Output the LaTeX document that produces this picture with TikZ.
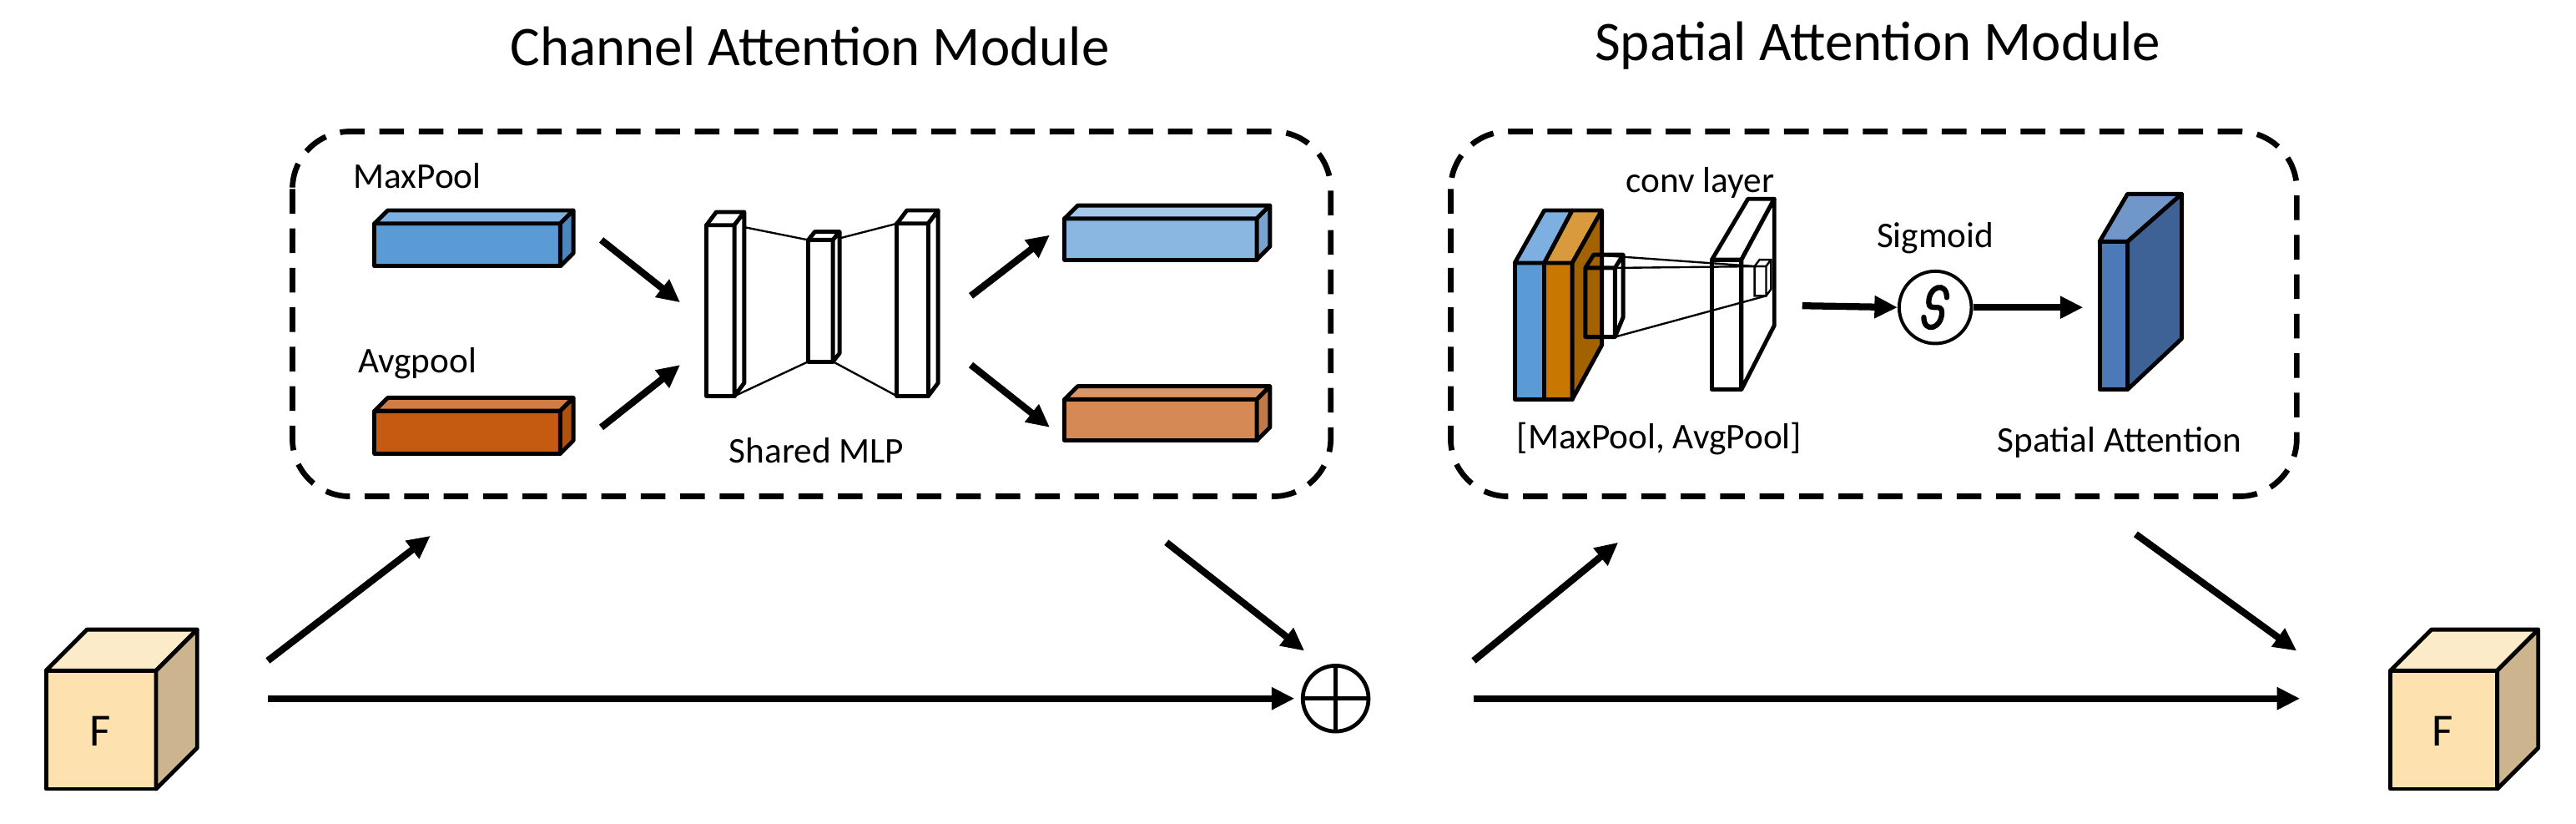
\documentclass[tikz,border=0pt]{standalone}
\usepackage{fontspec}
\setmainfont{Carlito}
\usetikzlibrary{arrows.meta}
\definecolor{mpf}{HTML}{5B9BD5}\definecolor{mpt}{HTML}{7DAFE0}\definecolor{mps}{HTML}{4A86C0}
\definecolor{apf}{HTML}{C55A11}\definecolor{apt}{HTML}{D07C45}\definecolor{aps}{HTML}{B0520F}
\definecolor{obf}{HTML}{8AB6E2}\definecolor{obt}{HTML}{A4C6EA}\definecolor{obs}{HTML}{79A3CF}
\definecolor{oof}{HTML}{D58A55}\definecolor{oot}{HTML}{DB9668}\definecolor{oos}{HTML}{C07A48}
\definecolor{orf}{HTML}{C87800}\definecolor{ort}{HTML}{D89A3C}\definecolor{ors}{HTML}{A36200}
\definecolor{saf}{HTML}{4E79B8}\definecolor{sat}{HTML}{7196C8}\definecolor{sas}{HTML}{3F6296}
\definecolor{ff}{HTML}{FDE2B0}\definecolor{ft}{HTML}{FCEBC8}\definecolor{fs}{HTML}{CCB48E}
\tikzset{
 big/.style={line width=4.2pt,-{Triangle[length=14pt,width=13pt]}},
 dbox/.style={line width=3.4pt,dash pattern=on 15pt off 9pt,rounded corners=35pt},
 lbl/.style={font=\fontsize{22}{26}\selectfont},
 ttl/.style={font=\fontsize{34}{40}\selectfont},
 edge/.style={line width=2.5pt,line join=round}
}
\newcommand{\mycube}[9]{%
 \fill[#7,draw=black,edge] (#1,#2) rectangle ++(#3,#4);
 \fill[#8,draw=black,edge] (#1,#2) -- ++(#5,-#6) -- ++(#3,0) -- ++(-#5,#6) -- cycle;
 \fill[#9,draw=black,edge] (#1+#3,#2) -- ++(#5,-#6) -- ++(0,#4) -- ++(-#5,#6) -- cycle;}
\begin{document}
\begin{tikzpicture}[x=1pt,y=-1pt]
\useasboundingbox (0,0) rectangle (1568,501);
\node[ttl] (t1) at (493,28) {Channel Attention Module};
\node[ttl] (t2) at (1143,28) {Spatial Attention Module};
\draw[dbox] (178,80) rectangle (810,302);
\draw[dbox] (883,80) rectangle (1398,302);
% channel
\node[lbl] (mpl) at (254,107) {MaxPool};
\mycube{228}{136}{113}{26}{8}{8}{mpf}{mpt}{mps}
\node[lbl] (apl) at (254,221) {Avgpool};
\mycube{228}{250}{113}{26}{8}{8}{apf}{apt}{aps}
\coordinate (a1s) at (366,146); \coordinate (a1e) at (414,184);
\coordinate (a2s) at (366,260); \coordinate (a2e) at (414,222);
\draw[big] (a1s) -- (a1e); \draw[big] (a2s) -- (a2e);
% MLP
\draw[line width=1.2pt] (447,137) -- (492,146) (447,241) -- (492,220) (507,146) -- (546,136) (507,220) -- (546,241);
\mycube{430}{137}{17}{104}{6}{8}{white}{white}{white}
\mycube{492}{146}{15}{74}{4}{5}{white}{white}{white}
\mycube{546}{136}{19}{105}{6}{8}{white}{white}{white}
\node[lbl] (mlp) at (497,274) {Shared MLP};
\coordinate (a3s) at (591,180); \coordinate (a3e) at (639,143);
\coordinate (a4s) at (591,222); \coordinate (a4e) at (639,260);
\draw[big] (a3s) -- (a3e); \draw[big] (a4s) -- (a4e);
\mycube{648}{133}{117}{25}{8}{8}{obf}{obt}{obs}
\mycube{648}{243}{117}{25}{8}{8}{oof}{oot}{oos}
% spatial
\fill[mpf,draw=black,edge] (922,160) rectangle (940,243);
\fill[orf,draw=black,edge] (940,160) rectangle (957,243);
\fill[mpt,draw=black,edge] (922,160) -- (940,128) -- (957,128) -- (940,160) -- cycle;
\fill[ort,draw=black,edge] (940,160) -- (957,128) -- (975,128) -- (957,160) -- cycle;
\fill[ors,draw=black,edge] (957,160) -- (975,128) -- (975,210) -- (957,243) -- cycle;
\draw[edge] (965,163) rectangle (983,205) (965,163) -- (970,155) -- (988,155) -- (983,163) (988,155) -- (988,193) -- (983,205);
\fill[white,draw=black,edge] (1042,158) rectangle (1060,237);
\fill[white,draw=black,edge] (1042,158) -- (1064,121) -- (1080,121) -- (1060,158) -- cycle;
\fill[white,draw=black,edge] (1060,158) -- (1080,121) -- (1080,198) -- (1060,237) -- cycle;
\draw[line width=1.2pt] (1068,162) rectangle (1075,180) (1068,162) -- (1071,158) -- (1078,158) -- (1078,176) -- (1075,180) (1075,162)--(1078,158);
\draw[line width=1.2pt] (970,155) -- (1068,162) (983,163) -- (1075,162) (983,205) -- (1075,180);
\node[lbl] (cvl) at (1035,111) {conv layer};
\node[lbl] (sgl) at (1178,145) {Sigmoid};
\node[circle,draw,line width=2pt,minimum size=44pt,inner sep=0] (sig) at (1178,187) {};
\draw[line width=3.2pt,line cap=round] ([shift={(7,-6)}]sig.center) .. controls ++(0,-10) and ++(0,-10) .. ([shift={(-4,-3)}]sig.center) .. controls ++(0,6) and ++(0,-6) .. ([shift={(4,3)}]sig.center) .. controls ++(0,10) and ++(0,10) .. ([shift={(-7,6)}]sig.center);
\coordinate (cvr) at (1097,186);
\draw[big] (cvr) -- (sig.west);
\coordinate (sae) at (1268,187);
\draw[big] (sig.east) -- (sae);
\fill[saf,draw=black,edge] (1278,147) rectangle (1295,237);
\fill[sat,draw=black,edge] (1278,147) -- (1295,118) -- (1328,118) -- (1295,147) -- cycle;
\fill[sas,draw=black,edge] (1295,147) -- (1328,118) -- (1328,206) -- (1295,237) -- cycle;
\node[lbl] (mxa) at (1010,267) {[MaxPool, AvgPool]};
\node[lbl] (spa) at (1290,269) {Spatial Attention};
% bottom
\mycube{28}{408}{67}{72}{25}{25}{ff}{ft}{fs}
\node[font=\fontsize{28}{32}\selectfont] (f1) at (61,445) {F};
\mycube{1455}{408}{65}{72}{25}{25}{ff}{ft}{fs}
\node[font=\fontsize{28}{32}\selectfont] (f2) at (1487,445) {F};
\node[circle,draw,line width=2.4pt,minimum size=40pt,inner sep=0] (op) at (813,425) {};
\draw[line width=2.4pt] (op.north) -- (op.south) (op.west) -- (op.east);
\coordinate (b1s) at (163,402); \coordinate (b1e) at (262,326);
\coordinate (b2s) at (163,425); \coordinate (b2e) at (788,425);
\coordinate (b3s) at (710,330); \coordinate (b3e) at (794,396);
\coordinate (b4s) at (897,402); \coordinate (b4e) at (985,330);
\coordinate (b5s) at (897,425); \coordinate (b5e) at (1400,425);
\coordinate (b6s) at (1300,325); \coordinate (b6e) at (1398,396);
\draw[big] (b1s) -- (b1e); \draw[big] (b2s) -- (b2e); \draw[big] (b3s) -- (b3e);
\draw[big] (b4s) -- (b4e); \draw[big] (b5s) -- (b5e); \draw[big] (b6s) -- (b6e);
\end{tikzpicture}
\end{document}
